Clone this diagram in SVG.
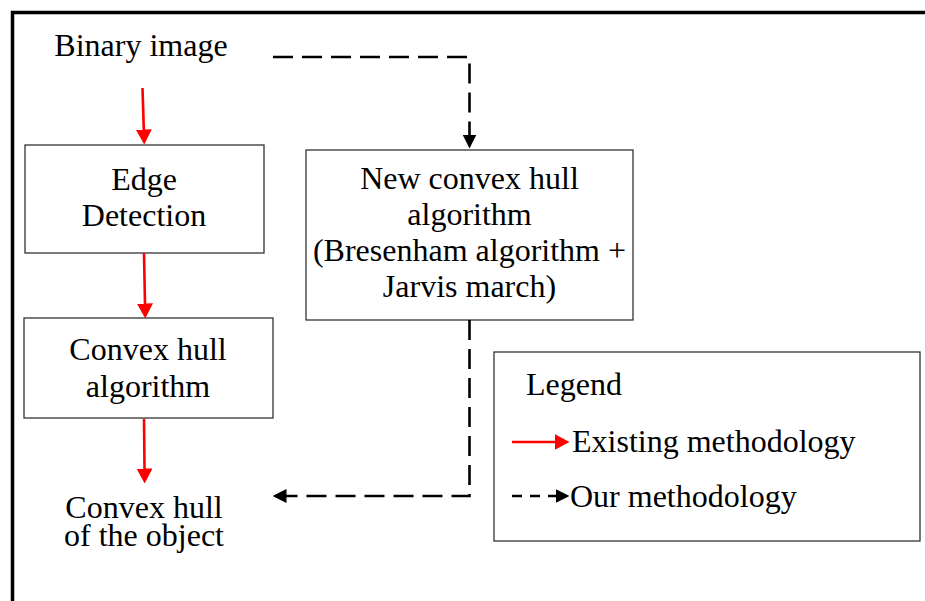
<svg xmlns="http://www.w3.org/2000/svg" width="925" height="601" viewBox="0 0 925 601">
<style>
text{font-family:'Liberation Serif','DejaVu Serif',serif;font-size:32px;fill:#000}
.c{text-anchor:middle}
.box{fill:#fff;stroke:#333;stroke-width:1.3}
.red{stroke:#f00;stroke-width:2.6;fill:none}
.dash{stroke:#000;stroke-width:2.6;fill:none;stroke-dasharray:20 9}
</style>
<defs>
<marker id="ar" viewBox="0 0 15 16" refX="0.5" refY="8" markerWidth="15" markerHeight="16" markerUnits="userSpaceOnUse" orient="auto"><path d="M0,0 L15,8 L0,16 z" fill="#f00"/></marker>
<marker id="ab" viewBox="0 0 14 14" refX="0.5" refY="7" markerWidth="14" markerHeight="14" markerUnits="userSpaceOnUse" orient="auto"><path d="M0,0 L14,7 L0,14 z" fill="#000"/></marker>
</defs>
<rect width="925" height="601" fill="#fff"/>
<path d="M12.5,601 V12.5 H925" fill="none" stroke="#000" stroke-width="3.5"/>

<g id="binary"><text class="c" x="141" y="56">Binary image</text></g>
<g id="edge"><rect class="box" x="25" y="145" width="239" height="108"/><text class="c" x="144" y="190">Edge</text><text class="c" x="144" y="226">Detection</text></g>
<g id="hull"><rect class="box" x="24" y="318" width="249" height="100"/><text class="c" x="148" y="360">Convex hull</text><text class="c" x="148" y="397">algorithm</text></g>
<g id="result"><text class="c" x="144" y="518">Convex hull</text><text class="c" x="144" y="546">of the object</text></g>
<g id="newalgo"><rect class="box" x="306" y="150" width="327" height="170"/><text class="c" x="469.5" y="189">New convex hull</text><text class="c" x="469.5" y="225">algorithm</text><text class="c" x="469.5" y="261">(Bresenham algorithm +</text><text class="c" x="469.5" y="297">Jarvis march)</text></g>
<g id="legend"><rect class="box" x="494" y="352" width="426" height="189"/><text x="526" y="395">Legend</text>
<line class="red" x1="512" y1="442" x2="555" y2="442" marker-end="url(#ar)"/>
<text x="572" y="452">Existing methodology</text>
<line x1="512" y1="496" x2="556" y2="496" stroke="#000" stroke-width="2.6" stroke-dasharray="10 8" marker-end="url(#ab)"/>
<text x="570" y="507">Our methodology</text></g>

<g id="connectors">
<line class="red" x1="142.5" y1="88" x2="143.8" y2="130" marker-end="url(#ar)"/>
<line class="red" x1="144" y1="253" x2="145" y2="304" marker-end="url(#ar)"/>
<line class="red" x1="144" y1="419" x2="144.5" y2="469" marker-end="url(#ar)"/>
<path class="dash" d="M273,57 H469.5 V135" marker-end="url(#ab)"/>
<path class="dash" d="M469.5,320 V496 H286" marker-end="url(#ab)"/>
</g>
</svg>
